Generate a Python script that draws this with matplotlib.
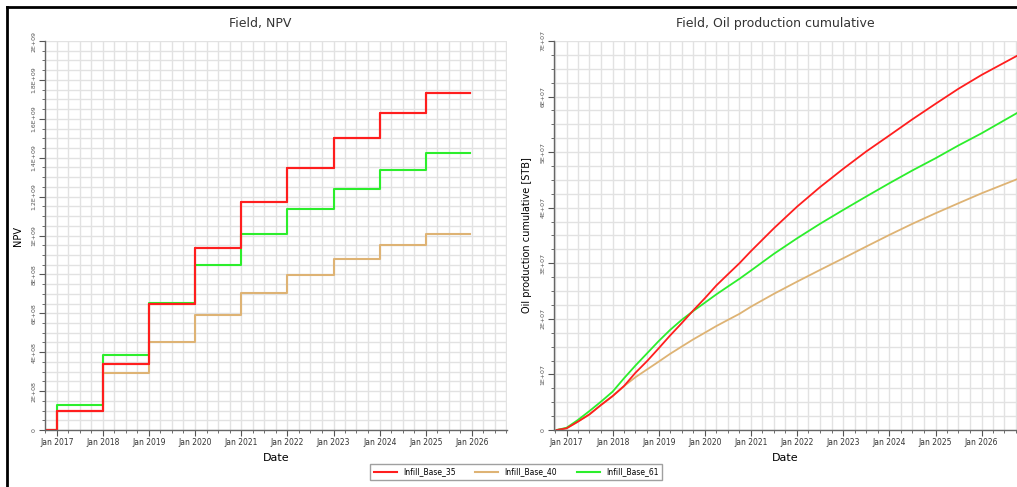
import numpy as np
import pandas as pd
import matplotlib
matplotlib.use('Agg')
import matplotlib.pyplot as plt
import matplotlib.dates as mdates
from matplotlib.ticker import FixedLocator, MultipleLocator, FuncFormatter
from matplotlib.lines import Line2D

# NPV step data (value holds from each date until the next)
npv_dates = ['2016-10-01', '2017-01-01', '2018-01-01', '2019-01-01', '2020-01-01',
             '2021-01-01', '2022-01-01', '2023-01-01', '2024-01-01', '2025-01-01',
             '2025-12-15']
npv_35 = [0, 0.97e8, 3.39e8, 6.46e8, 9.37e8, 11.72e8, 13.45e8, 15.0e8, 16.28e8, 17.34e8, 17.34e8]
npv_40 = [0, 0.97e8, 2.92e8, 4.54e8, 5.91e8, 7.03e8, 7.97e8, 8.81e8, 9.53e8, 10.09e8, 10.09e8]
npv_61 = [0, 1.29e8, 3.87e8, 6.53e8, 8.50e8, 10.08e8, 11.36e8, 12.41e8, 13.38e8, 14.24e8, 14.24e8]

# cumulative oil production
cum_dates = ['2016-10-15', '2017-01-01', '2017-04-01', '2017-07-01', '2017-10-01',
             '2018-01-01', '2018-04-01', '2018-07-01', '2018-10-01', '2019-01-01',
             '2019-04-01', '2019-07-01', '2019-10-01', '2020-01-01', '2020-04-01',
             '2020-07-01', '2020-10-01', '2021-01-01', '2021-07-01', '2022-01-01',
             '2022-07-01', '2023-01-01', '2023-07-01', '2024-01-01', '2024-07-01',
             '2025-01-01', '2025-07-01', '2026-01-01', '2026-10-05']
cum_35 = [0, 0.03, 0.15, 0.28, 0.45, 0.61, 0.79, 1.03, 1.24, 1.47, 1.70, 1.92, 2.15, 2.37,
          2.60, 2.80, 3.00, 3.22, 3.63, 4.02, 4.37, 4.70, 5.01, 5.30, 5.59, 5.87, 6.14, 6.39, 6.73]
cum_40 = [0, 0.03, 0.15, 0.28, 0.45, 0.61, 0.79, 0.95, 1.09, 1.23, 1.37, 1.50, 1.63, 1.75,
          1.87, 1.98, 2.09, 2.22, 2.45, 2.67, 2.88, 3.09, 3.30, 3.51, 3.71, 3.90, 4.08, 4.26, 4.51]
cum_61 = [0, 0.04, 0.18, 0.34, 0.51, 0.69, 0.93, 1.16, 1.38, 1.60, 1.80, 1.98, 2.14, 2.29,
          2.44, 2.58, 2.72, 2.87, 3.17, 3.45, 3.71, 3.96, 4.20, 4.44, 4.67, 4.89, 5.12, 5.34, 5.70]

series_names = ['Infill_Base_35', 'Infill_Base_40', 'Infill_Base_61']
colors = ['#ff1e1e', '#deb374', '#2cee2c']

npv_labels = ['0', '2E+08', '4E+08', '6E+08', '8E+08', '1E+09', '1.2E+09', '1.4E+09',
              '1.6E+09', '1.8E+09', '2E+09']
cum_labels = ['0', '1E+07', '2E+07', '3E+07', '4E+07', '5E+07', '6E+07', '7E+07']

W, H = 1017, 487
fig = plt.figure(figsize=(W / 100, H / 100), dpi=100)


def px_axes(x0, x1, y0, y1):
    return fig.add_axes([x0 / W, 1 - y1 / H, (x1 - x0) / W, (y1 - y0) / H])


def style_axes(ax, ymax, yminor, ylabels):
    ax.set_ylim(0, ymax)
    ax.yaxis.set_major_locator(FixedLocator(np.linspace(0, ymax, len(ylabels))))
    ax.yaxis.set_major_formatter(FuncFormatter(lambda v, p: ylabels[p] if p is not None and p < len(ylabels) else ''))
    ax.yaxis.set_minor_locator(MultipleLocator(yminor))
    ax.xaxis.set_major_locator(mdates.YearLocator())
    ax.xaxis.set_major_formatter(mdates.DateFormatter('Jan %Y'))
    ax.xaxis.set_minor_locator(mdates.MonthLocator(bymonth=[1, 4, 7, 10]))
    ax.grid(True, which='both', color='#e2e2e2', linewidth=1.0)
    ax.set_axisbelow(True)
    for s in ['top', 'right']:
        ax.spines[s].set_visible(False)
    for s in ['left', 'bottom']:
        ax.spines[s].set_color('#666666')
        ax.spines[s].set_linewidth(1.0)
    ax.tick_params(axis='x', which='major', labelsize=5.5, length=4, color='#555555',
                   labelcolor='#333333', pad=2)
    ax.tick_params(axis='x', which='minor', length=2.5, color='#555555')
    ax.tick_params(axis='y', which='major', labelsize=4.5, length=4, color='#555555',
                   labelcolor='#555555', labelrotation=90, pad=2)
    ax.tick_params(axis='y', which='minor', length=2.5, color='#555555')
    for lab in ax.get_yticklabels():
        lab.set_verticalalignment('center')
    ax.set_xlabel('Date', fontsize=8, labelpad=4)


# left: NPV
ax1 = px_axes(45, 507, 41, 430)
d1 = pd.to_datetime(npv_dates)
for vals, c in zip([npv_35, npv_40, npv_61][::-1], colors[::-1]):
    ax1.plot(d1, vals, drawstyle='steps-post', color=c, linewidth=1.5)
ax1.plot(d1, npv_35, drawstyle='steps-post', color=colors[0], linewidth=1.5)
ax1.set_xlim(pd.Timestamp('2016-09-30'), pd.Timestamp('2026-10-05'))
style_axes(ax1, 2e9, 5e7, npv_labels)
ax1.set_ylabel('NPV', fontsize=7, labelpad=6)

# right: cumulative oil
ax2 = px_axes(554, 1017, 41, 430)
d2 = pd.to_datetime(cum_dates)
for vals, c in zip([cum_40, cum_61, cum_35], [colors[1], colors[2], colors[0]]):
    ax2.plot(d2, np.array(vals) * 1e7, color=c, linewidth=1.3)
ax2.set_xlim(pd.Timestamp('2016-09-24'), pd.Timestamp('2026-10-08'))
style_axes(ax2, 7e7, 2.5e6, cum_labels)
ax2.set_ylabel('Oil production cumulative [STB]', fontsize=7, labelpad=6)

fig.text(260 / W, 1 - 24 / H, 'Field, NPV', ha='center', va='center', fontsize=9, color='#333333')
fig.text(775 / W, 1 - 24 / H, 'Field, Oil production cumulative', ha='center', va='center',
         fontsize=9, color='#333333')

handles = [Line2D([], [], color=c, linewidth=1.5) for c in colors]
leg = fig.legend(handles, series_names, loc='center', bbox_to_anchor=(516 / W, 1 - 472 / H),
                 ncol=3, fontsize=5.5, frameon=True, fancybox=False, edgecolor='#888888',
                 handlelength=3.0, columnspacing=2.6, borderpad=0.5)
leg.get_frame().set_linewidth(1.0)

# black frame around the screenshot
fig.add_artist(plt.Line2D([7 / W, 7 / W], [0, 1 - 7 / H], color='black', linewidth=2, transform=fig.transFigure))
fig.add_artist(plt.Line2D([7 / W, 1], [1 - 7 / H, 1 - 7 / H], color='black', linewidth=2, transform=fig.transFigure))

fig.savefig('out.png', dpi=100)
